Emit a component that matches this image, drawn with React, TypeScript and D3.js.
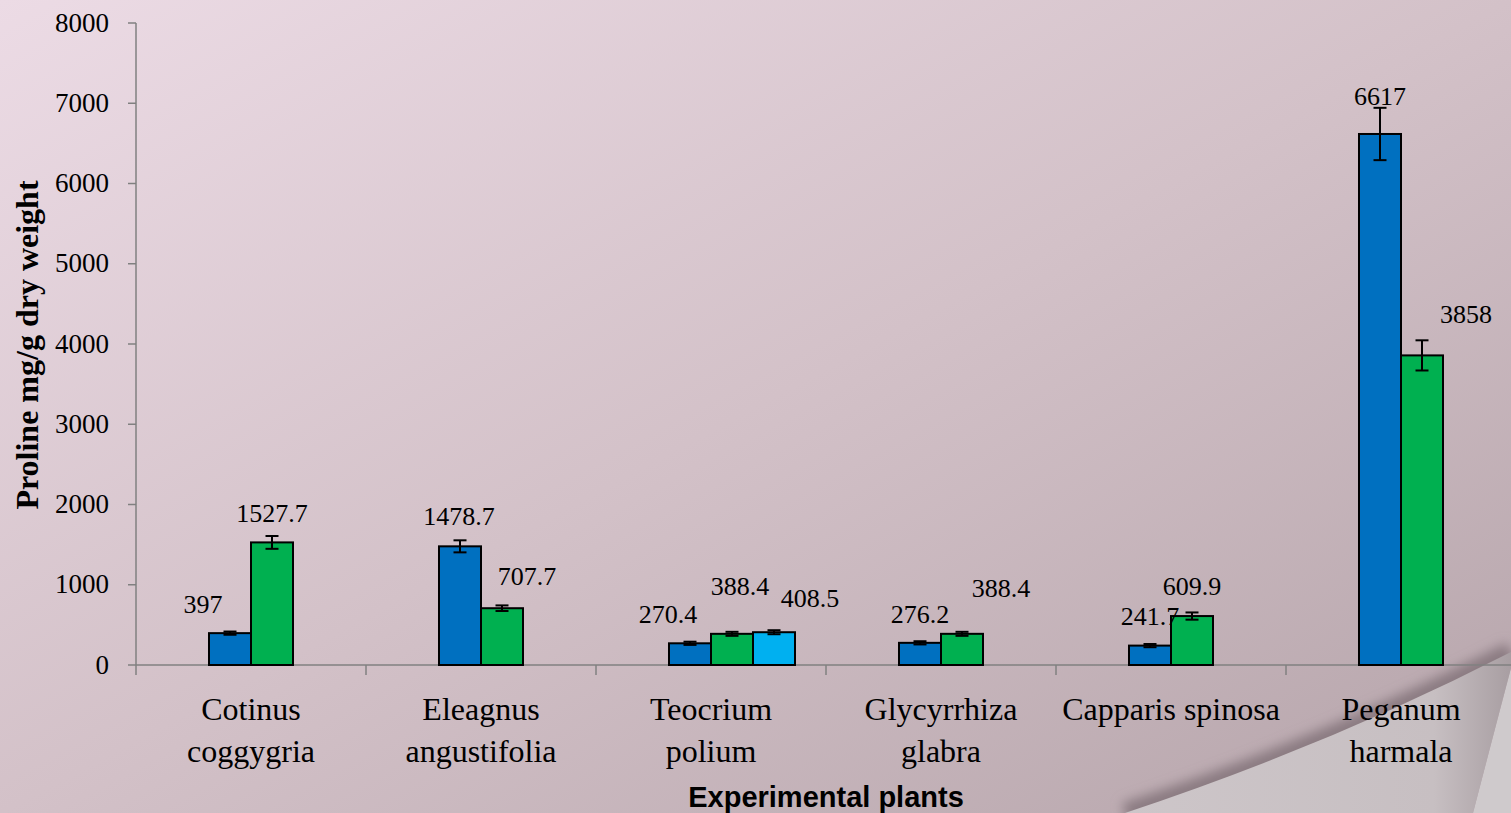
import React from "react";
import * as d3 from "d3";

const categories = [
  ["Cotinus", "coggygria"],
  ["Eleagnus", "angustifolia"],
  ["Teocrium", "polium"],
  ["Glycyrrhiza", "glabra"],
  ["Capparis spinosa"],
  ["Peganum", "harmala"],
];
const categoryKeys = ["Cotinus coggygria", "Eleagnus angustifolia", "Teocrium polium", "Glycyrrhiza glabra", "Capparis spinosa", "Peganum harmala"];

// series (slot 0 is an empty series, as in the original chart)
const seriesSlots = ["empty", "blue", "green", "cyan"];
const blueValues = [397, 1478.7, 270.4, 276.2, 241.7, 6617];
const greenValues = [1527.7, 707.7, 388.4, 388.4, 609.9, 3858];
const cyanValues: (number | null)[] = [null, null, 408.5, null, null, null];
const blueErrors = [20, 75, 20, 20, 20, 326];
const greenErrors = [80, 35, 25, 25, 45, 188];
const cyanErrors = [0, 0, 25, 0, 0, 0];
const yTicks = [0, 1000, 2000, 3000, 4000, 5000, 6000, 7000, 8000];

// label placement nudges in px (layout only)
const blueNudge = [[-27, -20], [-1, -21], [-22, -20], [0, -20], [0, -21], [0, -29]];
const greenNudge = [[0, -20], [25, -23], [8, -39], [39, -37], [0, -21], [44, -32]];
const cyanNudge = [[0, 0], [0, 0], [36, -25], [0, 0], [0, 0], [0, 0]];

const W = 1511;
const H = 813;
const left = 136;
const right = 1516;
const top = 23;
const bottom = 665;

export default function App() {
  const x = d3.scaleBand<string>().domain(categoryKeys).range([left, right]).padding(0);
  const inner = d3
    .scaleBand<string>()
    .domain(seriesSlots)
    .range([0, x.bandwidth()])
    .paddingInner(0)
    .paddingOuter(0.738);
  const y = d3.scaleLinear().domain([0, 8000]).range([bottom, top]);

  const series = [
    { key: "blue", color: "#0070c0", values: blueValues as (number | null)[], errors: blueErrors, nudge: blueNudge },
    { key: "green", color: "#00b050", values: greenValues as (number | null)[], errors: greenErrors, nudge: greenNudge },
    { key: "cyan", color: "#00b0f0", values: cyanValues, errors: cyanErrors, nudge: cyanNudge },
  ];

  const serif = "'Liberation Serif', 'Times New Roman', serif";
  const bw = inner.bandwidth();

  return (
    <svg
      width={W}
      height={H}
      style={{ position: "absolute", left: 0, top: 0, display: "block" }}
    >
      <defs>
        <linearGradient id="bg" x1="0" y1="0" x2="1" y2="1">
          <stop offset="0" stopColor="#ecdbe5" />
          <stop offset="0.5" stopColor="#d3c1c8" />
          <stop offset="1" stopColor="#b5a4aa" />
        </linearGradient>
        <linearGradient id="curl" x1="0" y1="0" x2="1" y2="0">
          <stop offset="0" stopColor="#cdc6c9" />
          <stop offset="0.8" stopColor="#c7bfc2" />
          <stop offset="1" stopColor="#a89ea2" />
        </linearGradient>
        <filter id="blur" x="-20%" y="-20%" width="140%" height="140%">
          <feGaussianBlur stdDeviation="6" />
        </filter>
      </defs>
      <rect x={0} y={0} width={W} height={H} fill="url(#bg)" />

      {/* page curl */}
      <path d="M1125,813 Q1330,745 1511,652" fill="none" stroke="#8a7a81" strokeWidth={20} filter="url(#blur)" />
      <path d="M1511,668 Q1492,740 1473,813 L1511,813 Z" fill="#cfcacc" />
      <path d="M1125,813 Q1330,745 1511,652 L1511,668 Q1492,740 1473,813 Z" fill="url(#curl)" />

      {/* axes */}
      <line x1={left} y1={top} x2={left} y2={bottom + 10} stroke="#808080" strokeWidth={1.5} />
      <line x1={left} y1={bottom} x2={right} y2={bottom} stroke="#808080" strokeWidth={1.5} />
      {yTicks.map((t) => (
        <g key={t}>
          <line x1={left - 8} x2={left} y1={y(t)} y2={y(t)} stroke="#808080" strokeWidth={1.5} />
          <text x={109} y={y(t)} dy="0.32em" textAnchor="end" fontFamily={serif} fontSize={27} fill="#000">
            {t}
          </text>
        </g>
      ))}
      {categoryKeys.map((c) => (
        <line key={c} x1={x(c)! + x.bandwidth()} x2={x(c)! + x.bandwidth()} y1={bottom} y2={bottom + 10} stroke="#808080" strokeWidth={1.5} />
      ))}

      {/* bars */}
      {series.map((s) =>
        categoryKeys.map((c, i) => {
          const v = s.values[i];
          if (v == null) return null;
          const bx = x(c)! + inner(s.key)!;
          const cx = bx + bw / 2;
          const e = s.errors[i];
          return (
            <g key={s.key + c}>
              <rect x={bx} y={y(v)} width={bw} height={y(0) - y(v)} fill={s.color} stroke="#000" strokeWidth={2} />
              <line x1={cx} x2={cx} y1={y(v + e)} y2={y(v - e)} stroke="#000" strokeWidth={2} />
              <line x1={cx - 6.5} x2={cx + 6.5} y1={y(v + e)} y2={y(v + e)} stroke="#000" strokeWidth={2} />
              <line x1={cx - 6.5} x2={cx + 6.5} y1={y(v - e)} y2={y(v - e)} stroke="#000" strokeWidth={2} />
            </g>
          );
        })
      )}

      {/* data labels */}
      {series.map((s) =>
        categoryKeys.map((c, i) => {
          const v = s.values[i];
          if (v == null) return null;
          const cx = x(c)! + inner(s.key)! + bw / 2;
          return (
            <text
              key={"l" + s.key + c}
              x={cx + s.nudge[i][0]}
              y={y(v) + s.nudge[i][1]}
              textAnchor="middle"
              fontFamily={serif}
              fontSize={26}
              fill="#000"
            >
              {v}
            </text>
          );
        })
      )}

      {/* category labels */}
      {categories.map((lines, i) => (
        <text key={i} x={x(categoryKeys[i])! + x.bandwidth() / 2} y={720} textAnchor="middle" fontFamily={serif} fontSize={32} fill="#000">
          {lines.map((ln, j) => (
            <tspan key={j} x={x(categoryKeys[i])! + x.bandwidth() / 2} y={720 + j * 42}>
              {ln}
            </tspan>
          ))}
        </text>
      ))}

      {/* axis titles */}
      <text x={(left + right) / 2} y={807} textAnchor="middle" fontFamily="'Liberation Sans', Arial, sans-serif" fontWeight="bold" fontSize={29} fill="#000">
        Experimental plants
      </text>
      <text transform="translate(38,345) rotate(-90)" textAnchor="middle" fontFamily={serif} fontWeight="bold" fontSize={32} fill="#000">
        Proline mg/g dry weight
      </text>
    </svg>
  );
}
